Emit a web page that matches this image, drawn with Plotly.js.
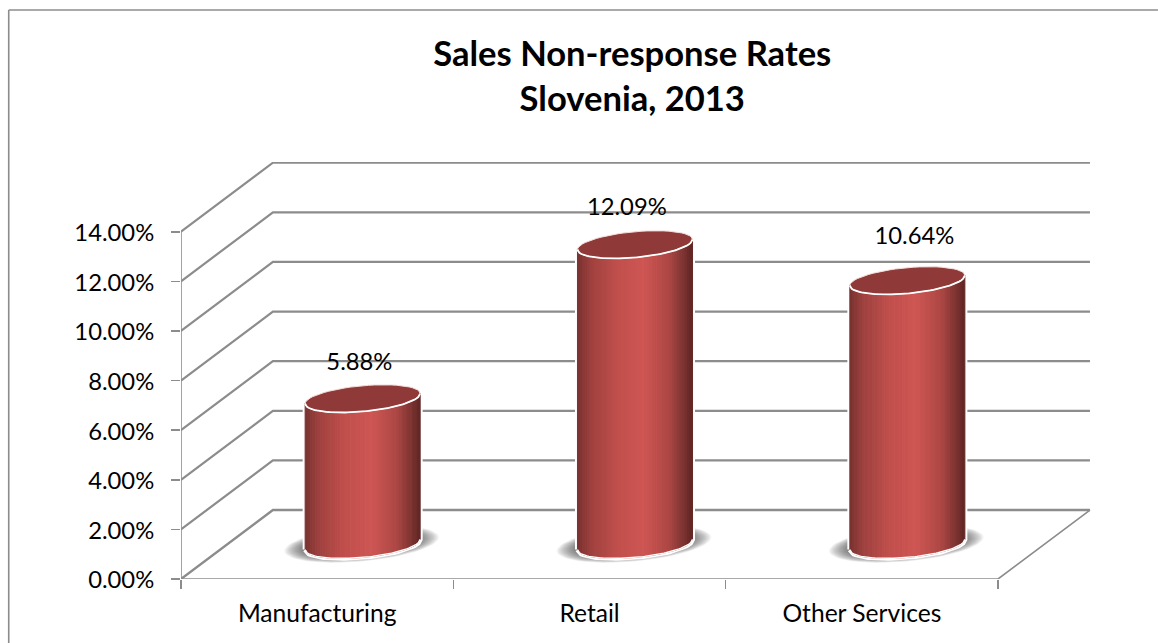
<!DOCTYPE html>
<html><head><meta charset="utf-8">
<script src="https://cdn.plot.ly/plotly-3.0.1.min.js"></script>
<style>html,body{margin:0;padding:0;background:#fff}#c{width:1158px;height:643px}</style></head>
<body><div id="c"></div>
<script>
const categories = ["Manufacturing", "Retail", "Other Services"];
const rates = [0.0588, 0.1209, 0.1064];
const rateLabels = ["5.88%", "12.09%", "10.64%"];
const axisTicks = [0, 0.02, 0.04, 0.06, 0.08, 0.10, 0.12, 0.14];

// pseudo-3D projection, in axis units
const depthX = 0.3375, depthY = 0.0278;
const halfW = 0.2112, capB = 0.0052, tilt = 0.0097; // tilt: value per category unit
const labelDx = [-0.012, -0.03, 0.026], labelDy = [0.0141, 0.0145, 0.0173];
const GRID = "#8c8c8c";
const traces = [];
const line = (x, y, w, c) => traces.push({x, y, mode: "lines", type: "scatter", cliponaxis: false,
  line: {color: c || GRID, width: w}, hoverinfo: "skip", showlegend: false});
const poly = (x, y, fill, lc, lw) => traces.push({x, y, mode: "lines", type: "scatter", cliponaxis: false,
  fill: "toself", fillcolor: fill, line: {color: lc || fill, width: lw === undefined ? 1 : lw},
  hoverinfo: "skip", showlegend: false});

// walls and floor
axisTicks.forEach((t, k) => {
  line([0, depthX, 3 + depthX], [t, t + depthY, t + depthY], k === 0 ? 2.4 : 2.2);
});
line([0, 0], [0, 0.14], 1.6);
line([0, 3, 3 + depthX], [0, 0, depthY], 1.6);

function ellipse(cx, cy, a, b) {
  const xs = [], ys = [];
  for (let d = 0; d <= 360; d += 6) {
    const r = d * Math.PI / 180, dx = a * Math.cos(r);
    xs.push(cx + dx); ys.push(cy + dx * tilt + b * Math.sin(r));
  }
  return [xs, ys];
}
function mix(t) {
  const stops = [[0, [120, 50, 48]], [0.12, [158, 65, 63]], [0.35, [193, 79, 76]], [0.58, [206, 86, 83]],
                 [0.8, [172, 71, 68]], [0.93, [124, 51, 49]], [1, [94, 38, 36]]];
  for (let i = 1; i < stops.length; i++) if (t <= stops[i][0]) {
    const u = (t - stops[i-1][0]) / (stops[i][0] - stops[i-1][0]);
    const c = stops[i-1][1].map((v, j) => Math.round(v + (stops[i][1][j] - v) * u));
    return `rgb(${c})`;
  }
}
rates.forEach((v, i) => {
  const cx = i + 0.5 + 0.334 / 2, y0 = depthY / 2, y1 = y0 + v;
  // floor shadow
  for (let s = 16; s >= 1; s--) {
    const [sx, sy] = ellipse(cx - 0.004, y0 + 0.0002, halfW * (1 + s * 0.0215), capB * (1 + s * 0.022));
    poly(sx, sy, "rgba(70,70,70,0.06)", "rgba(0,0,0,0)", 0);
  }
  // halo that interrupts the gridlines
  const front = (x, y) => y + (x - cx) * tilt - capB * Math.sqrt(Math.max(0, 1 - ((x - cx) / halfW) ** 2));
  const back  = (x, y) => y + (x - cx) * tilt + capB * Math.sqrt(Math.max(0, 1 - ((x - cx) / halfW) ** 2));
  const N = 46, hx = [], hy = [];
  for (let k = 0; k <= 60; k++) { const x = cx - halfW + 2 * halfW * k / 60; hx.push(x); hy.push(front(x, y0)); }
  for (let k = 60; k >= 0; k--) { const x = cx - halfW + 2 * halfW * k / 60; hx.push(x); hy.push(back(x, y1)); }
  hx.push(hx[0]); hy.push(hy[0]);
  poly(hx, hy, "#ffffff", "#ffffff", 5);
  // body strips give the cylinder shading
  for (let k = 0; k < N; k++) {
    const a = cx - halfW + 2 * halfW * k / N, b = cx - halfW + 2 * halfW * (k + 1) / N;
    poly([a, b, b, a, a], [front(a, y0), front(b, y0), front(b, y1), front(a, y1), front(a, y0)], mix((k + 0.5) / N));
  }
  // top cap
  const [tx, ty] = ellipse(cx, y1, halfW, capB);
  poly(tx, ty, "#8f3a38", "#f3dcdb", 1);
  // white front rims
  const rx = [], r0 = [], r1 = [];
  for (let k = 0; k <= 60; k++) { const x = cx - halfW + 2 * halfW * k / 60; rx.push(x); r0.push(front(x, y0)); r1.push(front(x, y1)); }
  line(rx, r0, 1.4, "#ffffff");
  line(rx, r1, 1.8, "#ffffff");
});
// value labels
traces.push({type: "scatter", mode: "text", cliponaxis: false, hoverinfo: "skip", showlegend: false,
  x: rates.map((v, i) => i + 0.5 + 0.334 / 2 + labelDx[i]),
  y: rates.map((v, i) => depthY / 2 + v + labelDy[i]),
  text: rateLabels, textposition: "middle center",
  textfont: {family: "Lato, Carlito, sans-serif", size: 23.8, color: "#000"}});

const layout = {
  width: 1158, height: 643, showlegend: false,
  margin: {l: 181, r: 66, t: 162, b: 64, pad: 0},
  paper_bgcolor: "#fff", plot_bgcolor: "rgba(0,0,0,0)",
  font: {family: "Lato, Carlito, sans-serif", color: "#000"},
  title: {text: "<b>Sales Non-response Rates<br>Slovenia, 2013</b>", x: 0.546, xanchor: "center",
    xref: "container", y: 0.898, yanchor: "top", yref: "container",
    font: {family: "Lato, Carlito, sans-serif", size: 34.6, color: "#000"}},
  xaxis: {range: [0, 3.345], fixedrange: true, showgrid: false, zeroline: false, showline: false,
    tickmode: "array", tickvals: [0.5, 1.5, 2.5], ticktext: categories, ticks: "", ticklabelstandoff: 17,
    tickfont: {size: 24.6},
    minor: {tickmode: "array", tickvals: [0, 1, 2, 3], ticks: "outside", ticklen: 9, tickwidth: 1.6, tickcolor: GRID, showgrid: false}},
  yaxis: {range: [0, 0.1681], fixedrange: true, showgrid: false, zeroline: false, showline: false,
    tickmode: "array", tickvals: axisTicks, tickformat: ".2%", ticks: "outside", ticklen: 9, tickwidth: 1.6,
    tickcolor: GRID, tickfont: {size: 23.8}, ticklabelstandoff: 12, ticklabelshift: 1},
  shapes: [
    {type: "line", xref: "paper", yref: "paper", x0: -0.1891, x1: -0.1891, y0: -0.1535, y1: 1.3645,
     line: {color: "#8c8c8c", width: 1.6}, layer: "below"},
    {type: "line", xref: "paper", yref: "paper", x0: -0.1891, x1: 1.0724, y0: 1.3645, y1: 1.3645,
     line: {color: "#8c8c8c", width: 1.6}, layer: "below"}]
};
Plotly.newPlot("c", traces, layout, {displayModeBar: false, staticPlot: true});
</script></body></html>
